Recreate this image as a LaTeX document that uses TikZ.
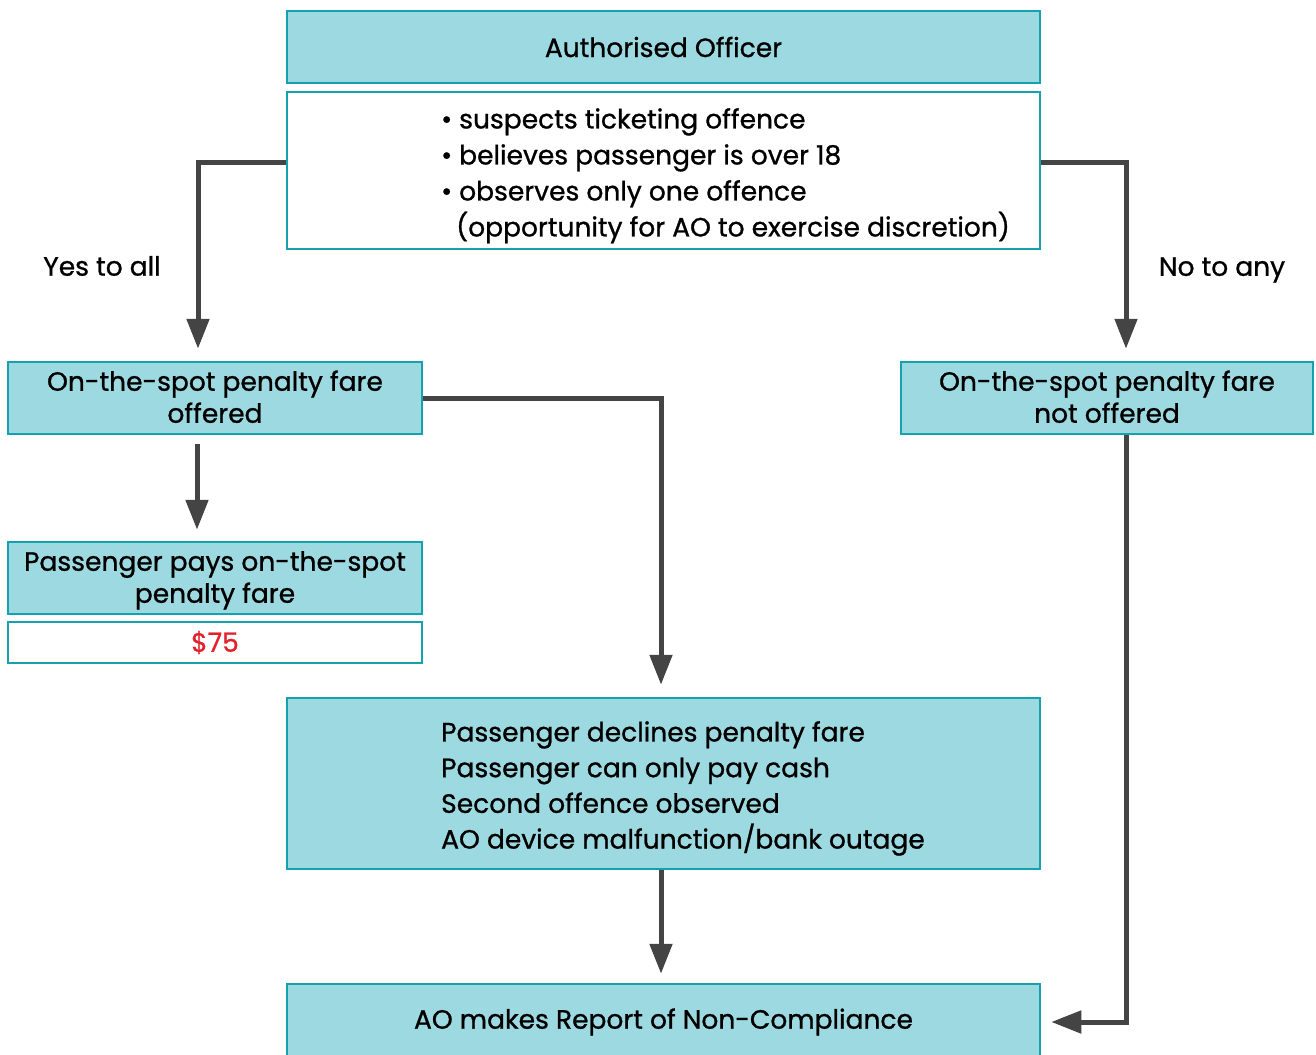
\documentclass[tikz,border=0pt]{standalone}
\usepackage{fontspec}
\setmainfont{Poppins}[FakeBold=0.9]
\usetikzlibrary{arrows.meta}
\definecolor{boxfill}{HTML}{9DD9E0}
\definecolor{boxline}{HTML}{14A3AE}
\definecolor{flowline}{HTML}{444444}
\definecolor{fare}{HTML}{E5202A}
\newcommand\boxstrut{\rule[-7pt]{0pt}{31.5pt}}
\begin{document}
\begin{tikzpicture}
        [x=1pt, y=-1pt,
        box/.style={draw=boxline, line width=2.5pt, fill=boxfill, inner sep=0pt, font=\fontsize{26.5}{32}\selectfont},
        whitebox/.style={box, fill=white},
        lines/.style={anchor=north west, inner sep=0pt, align=left, font=\fontsize{26.5}{35.7}\selectfont},
        flow/.style={draw=flowline, line width=5pt, -{Triangle[width=22pt,length=30pt]}},
        side/.style={font=\fontsize{26.5}{30}\selectfont}]
        
        \clip (0,0) rectangle (1316,1054);
        
        % Top of the chart
        \node[box, minimum width=753pt, minimum height=72pt] (AO) at (663.5,47) {Authorised Officer};
        \node[whitebox, minimum width=753pt, minimum height=157pt] (Crit) at (663.5,170.5) {};
        \node[lines, font=\fontsize{26.5}{36}\selectfont] (CritText) at (441,108) {\textbullet\ suspects ticketing offence\\
            \textbullet\ believes passenger is over 18\\
            \textbullet\ observes only one offence\\
            \hspace*{15pt}(opportunity for AO to exercise discretion)};
        
        % Outcome boxes
        \node[box, align=center, minimum width=414pt, minimum height=72pt] (Offered) at (215,398) {\boxstrut On-the-spot penalty fare\\\boxstrut offered};
        \node[box, align=center, minimum width=412pt, minimum height=72pt] (NotOffered) at (1107,398) {\boxstrut On-the-spot penalty fare\\\boxstrut not offered};
        \node[box, align=center, minimum width=414pt, minimum height=72pt] (Pays) at (215,578) {\boxstrut Passenger pays on-the-spot\\\boxstrut penalty fare};
        \node[whitebox, minimum width=414pt, minimum height=41pt, text=fare] (Fare) at (215,642.5) {\$75};
        \node[box, minimum width=753pt, minimum height=171pt] (Reasons) at (663.5,783.5) {};
        \node[lines] (ReasonsText) at (441,721) {Passenger declines penalty fare\\
            Passenger can only pay cash\\
            Second offence observed\\
            AO device malfunction/bank outage};
        \node[box, minimum width=753pt, minimum height=76pt] (Report) at (663.5,1022) {AO makes Report of Non-Compliance};
        
        % Branch labels
        \node[side] (Yes) at (102,266) {Yes to all};
        \node[side] (No) at (1222,270) {No to any};
        
        % Connectors
        \draw[flow] ([yshift=8.5pt]Crit.west) -| ([xshift=-17pt,yshift=12pt]Offered.north);
        \draw[flow] ([yshift=8.5pt]Crit.east) -| ([xshift=19pt,yshift=12pt]NotOffered.north);
        \draw[flow] ([xshift=-18pt,yshift=-9pt]Offered.south) -- ([xshift=-18pt,yshift=11pt]Pays.north);
        \draw[flow] (Offered.east) -| ([xshift=-2.5pt,yshift=12pt]Reasons.north);
        \draw[flow] ([xshift=-2.5pt]Reasons.south) -- ([xshift=-2.5pt,yshift=9pt]Report.north);
        \draw[flow] ([xshift=19pt]NotOffered.south) |- ([xshift=10pt]Report.east);
        
    \end{tikzpicture}
\end{document}
